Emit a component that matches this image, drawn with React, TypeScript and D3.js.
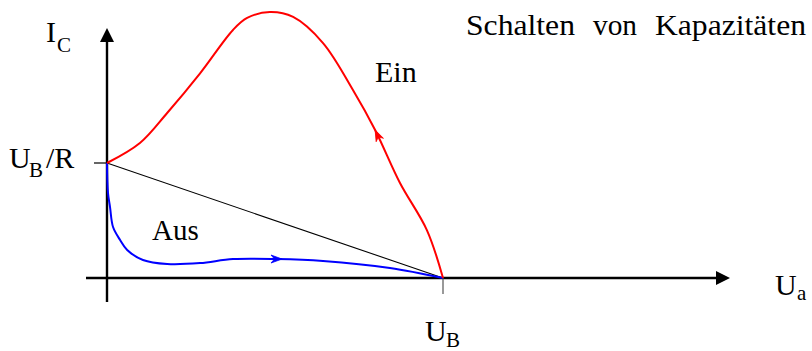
import React from "react";
import * as d3 from "d3";

// Normalised units: Ua in multiples of U_B, I_C in multiples of U_B/R
const einUa = [0, 0.098, 0.179, 0.277, 0.375, 0.417, 0.485, 0.554, 0.643, 0.732, 0.798, 0.872, 0.952, 1];
const einIc = [1, 1.174, 1.435, 1.78, 2.157, 2.261, 2.313, 2.27, 2.043, 1.635, 1.287, 0.826, 0.417, 0];

const ausUa = [0, 0.003, 0.009, 0.018, 0.039, 0.06, 0.107, 0.179, 0.277, 0.375, 0.506, 0.643, 0.842, 1];
const ausIc = [1, 0.739, 0.617, 0.443, 0.33, 0.243, 0.157, 0.122, 0.13, 0.165, 0.165, 0.148, 0.087, 0];

// Load line of the resistor: from (0, U_B/R) to (U_B, 0)
const loadUa = [0, 1];
const loadIc = [1, 0];

const titleWords = ["Schalten", "von", "Kapazitäten"];

const W = 812;
const H = 351;
const FONT = "Liberation Serif";

const x = d3.scaleLinear().domain([0, 1]).range([107, 443]);
const y = d3.scaleLinear().domain([0, 1]).range([278, 163]);

type Pt = [number, number];
const toPts = (xs: number[], ys: number[]): Pt[] => xs.map((v, i) => [x(v), y(ys[i])]);

const curve = d3.line<Pt>().x((d) => d[0]).y((d) => d[1]).curve(d3.curveCatmullRom.alpha(0.5));
const straight = d3.line<Pt>().x((d) => d[0]).y((d) => d[1]);

function Arrowhead({ at, from, color }: { at: Pt; from: Pt; color: string }) {
  const ang = (Math.atan2(at[1] - from[1], at[0] - from[0]) * 180) / Math.PI;
  return (
    <path
      d="M0,0 L-11,-4 L-7.5,0 L-11,4 Z"
      fill={color}
      stroke={color}
      strokeWidth={0.8}
      transform={`translate(${at[0]},${at[1]}) rotate(${ang})`}
    />
  );
}

const T = ({ children, ...p }: any) => (
  <text {...p} style={{ fontFamily: FONT }} fill="#000">
    {children}
  </text>
);

// word placement of the title: left edge and width
const titleX = [466, 593, 655];
const titleW = [109, 44, 151];

export default function App() {
  const ein = toPts(einUa, einIc);
  const aus = toPts(ausUa, ausIc);
  const load = toPts(loadUa, loadIc);

  const x0 = x(0);
  const y0 = y(0);

  return (
    <svg width={W} height={H} style={{ position: "absolute", left: 0, top: 0, background: "#fff" }}>
      {/* axes */}
      <line x1={x0} y1={302} x2={x0} y2={40} stroke="#000" strokeWidth={2.4} />
      <path d={`M${x0},28 L${x0 - 7},42 L${x0 + 7},42 Z`} fill="#000" />
      <line x1={86} y1={y0} x2={720} y2={y0} stroke="#000" strokeWidth={2.4} />
      <path d={`M730,${y0} L716,${y0 - 7} L716,${y0 + 7} Z`} fill="#000" />

      {/* ticks */}
      <line x1={94} y1={y(1)} x2={x0} y2={y(1)} stroke="#000" strokeWidth={1.2} />
      <line x1={x(1)} y1={y0} x2={x(1)} y2={294} stroke="#555" strokeWidth={1.2} />

      {/* load line */}
      <path d={straight(load) ?? ""} fill="none" stroke="#000" strokeWidth={1.1} />

      {/* switching trajectories */}
      <path d={curve(aus) ?? ""} fill="none" stroke="#0000ff" strokeWidth={2} />
      <path d={curve(ein) ?? ""} fill="none" stroke="#ff0000" strokeWidth={2} />
      <Arrowhead at={[aus[10][0] + 5, aus[10][1]]} from={aus[9]} color="#0000ff" />
      <Arrowhead at={ein[10]} from={ein[11]} color="#ff0000" />

      {/* axis labels */}
      <T x={46} y={42} fontSize={30}>I</T>
      <T x={57} y={52} fontSize={21}>C</T>

      <T x={9} y={y(1) + 5} fontSize={30}>U</T>
      <T x={29} y={y(1) + 14} fontSize={21}>B</T>
      <T x={46} y={y(1) + 5} fontSize={30}>/R</T>

      <T x={425} y={341} fontSize={30}>U</T>
      <T x={446} y={347} fontSize={21}>B</T>

      <T x={775} y={295} fontSize={30}>U</T>
      <T x={797} y={300} fontSize={21}>a</T>

      {/* curve labels */}
      <T x={375} y={82} fontSize={30}>Ein</T>
      <T x={152} y={240} fontSize={29}>Aus</T>

      {/* title */}
      {titleWords.map((w, i) => (
        <T key={w} x={titleX[i]} y={35} fontSize={29} textLength={titleW[i]} lengthAdjust="spacingAndGlyphs">
          {w}
        </T>
      ))}
    </svg>
  );
}
